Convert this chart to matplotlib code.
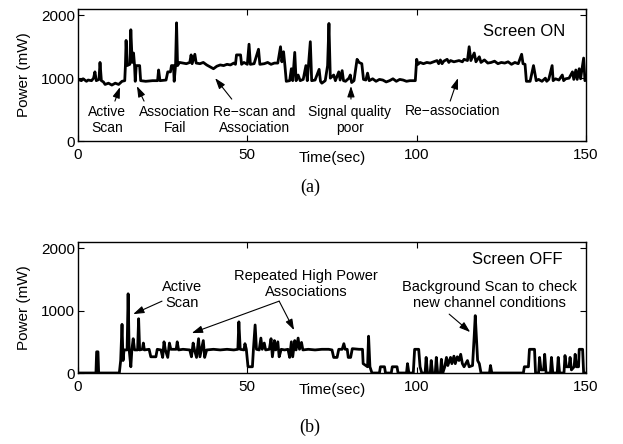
import matplotlib
matplotlib.use("Agg")
import matplotlib.pyplot as plt

plt.rcParams['font.family'] = ['Liberation Sans', 'DejaVu Sans']

# Screen ON trace: (time in s, power in mW)
on_trace = [
    (0, 980), (1, 960), (1.5, 990), (2.5, 950), (3, 970), (4, 960), (4.6, 1000), (5, 1100),
    (5.4, 960), (6.2, 980), (6.5, 1250), (6.9, 960), (7.5, 940), (8, 900), (9, 920), (10, 890),
    (11, 920), (12, 900), (13, 950), (13.8, 960), (14.0, 1200), (14.2, 1600), (14.5, 1200),
    (15.3, 1220), (15.6, 1770), (16, 1250), (16.4, 1400), (16.7, 1200), (16.9, 950), (17.2, 1200),
    (18.2, 1200), (18.5, 960), (20, 950), (22, 960), (23.5, 960), (23.8, 1130), (24.2, 960),
    (26, 970), (26.5, 1100), (27.3, 1100), (27.6, 1200), (28.2, 1200), (28.4, 950), (28.8, 1200),
    (29.1, 1880), (29.4, 1200), (30, 1250), (31, 1240), (32, 1230), (33, 1250), (33.4, 1370),
    (33.7, 1230), (34.5, 1380), (34.9, 1240), (36, 1230), (37, 1250), (38, 1210), (39, 1180),
    (40, 1150), (41, 1190), (42, 1210), (43, 1200), (44, 1220), (45, 1210), (46, 1240),
    (46.5, 1220), (46.8, 1370), (48, 1370), (48.3, 1220), (49, 1250), (50, 1220), (50.5, 1540),
    (50.9, 1220), (52, 1230), (53.3, 1460), (53.7, 1220), (55, 1230), (56, 1250), (57, 1220),
    (58, 1240), (59, 1240), (59.8, 1500), (60.2, 1260), (60.7, 1420), (61.1, 1200), (61.5, 950),
    (62.5, 960), (63, 1150), (63.4, 960), (64, 1410), (64.4, 960), (65, 1050), (65.6, 960),
    (66.5, 980), (67.3, 1200), (67.7, 960), (68.6, 1580), (69, 960), (70, 970), (71.2, 1140),
    (71.6, 950), (72, 920), (73, 960), (73.7, 1200), (74.1, 1870), (74.5, 1000), (75.5, 1050),
    (76, 960), (77, 1100), (77.4, 970), (78, 1120), (78.4, 960), (79, 950), (80, 1000),
    (80.4, 1050), (80.8, 930), (81.5, 960), (82.4, 1300), (83, 1250), (83.8, 1230), (84.3, 980),
    (85, 970), (85.5, 1080), (86, 960), (87, 990), (88, 950), (89, 980), (90, 970), (91, 940),
    (92, 960), (93, 990), (94, 950), (95, 980), (96, 970), (97, 950), (98, 960), (99.6, 960),
    (100, 1300), (100.4, 1220), (101, 1250), (102, 1230), (103, 1250), (104, 1240), (105, 1260),
    (106, 1280), (106.5, 1230), (107, 1290), (107.5, 1230), (108, 1270), (109, 1300), (109.5, 1250),
    (110, 1280), (111, 1260), (112.5, 1280), (113.5, 1260), (114, 1300), (115, 1280), (115.5, 1500),
    (116, 1280), (117, 1400), (117.5, 1260), (118.5, 1340), (119, 1250), (120, 1290), (121, 1240),
    (122, 1250), (123, 1270), (124, 1230), (125, 1250), (126, 1240), (127, 1260), (128, 1220),
    (129, 1250), (130, 1230), (131, 1380), (131.4, 1230), (132, 1220), (132.4, 950), (133.5, 950),
    (134.5, 1200), (135.3, 960), (136, 980), (137, 950), (138, 1000), (138.4, 950), (139, 980),
    (140, 1200), (140.3, 960), (141, 990), (142, 970), (143, 1050), (143.4, 960), (144, 990),
    (145, 1000), (146, 1100), (146.4, 980), (147, 1130), (147.4, 980), (148, 1150), (148.4, 990),
    (149.3, 1320), (149.7, 960), (150, 1000),
]

# Screen OFF trace
off_trace = [
    (0, 0), (5.3, 0), (5.5, 340), (5.9, 340), (6.1, 0), (12.2, 0), (12.6, 200), (13.0, 780),
    (13.3, 200), (13.6, 370), (14.5, 370), (14.8, 1270), (15.1, 380), (15.6, 100), (15.9, 370),
    (16.3, 550), (16.7, 370), (17.6, 370), (17.9, 870), (18.2, 370), (19, 380), (19.3, 480),
    (19.6, 370), (21, 380), (21.5, 260), (23, 260), (23.4, 380), (24.5, 370), (25, 250),
    (25.4, 500), (25.8, 370), (26.5, 250), (27, 480), (27.4, 380), (29, 380), (29.3, 500),
    (29.7, 370), (31, 380), (33, 370), (33.5, 260), (34, 480), (34.4, 370), (35, 250),
    (35.6, 550), (36, 260), (37, 520), (37.4, 250), (38, 370), (40, 380), (42, 370), (44, 380),
    (46, 370), (47.2, 380), (47.5, 820), (47.9, 380), (49, 370), (49.3, 470), (49.7, 380),
    (50.2, 100), (51.5, 100), (51.8, 380), (52.3, 770), (52.7, 380), (53.5, 370), (54, 560),
    (54.4, 380), (55, 480), (55.4, 370), (56.5, 380), (57, 550), (57.4, 260), (58, 520),
    (58.4, 370), (59, 500), (59.4, 260), (60, 380), (61, 370), (62, 380), (62.5, 250), (63, 500),
    (63.4, 260), (64, 520), (64.4, 370), (65, 560), (65.4, 380), (66, 490), (66.4, 370),
    (68, 380), (70, 370), (72, 380), (74, 380), (75, 370), (75.5, 250), (76.5, 250), (77, 380),
    (78, 380), (78.5, 470), (78.9, 380), (79.5, 380), (79.8, 250), (80.5, 250), (81, 390),
    (83, 380), (84, 380), (84.2, 150), (85.5, 100), (85.8, 590), (86.2, 100), (86.8, 0),
    (89, 0), (89.3, 100), (90.5, 100), (90.8, 0), (92.5, 0), (92.8, 100), (94.2, 100), (94.5, 0),
    (97, 0), (97.3, 150), (97.7, 0), (99, 0), (99.4, 380), (100.6, 380), (101, 100), (101.5, 0),
    (102.5, 0), (102.8, 250), (103.2, 0), (104, 0), (104.3, 200), (104.7, 0), (105.5, 0),
    (105.8, 250), (106.2, 0), (107, 0), (107.3, 220), (107.7, 0), (108.3, 100), (108.8, 250),
    (109.2, 120), (110, 250), (110.4, 150), (111, 270), (111.4, 150), (112, 260), (112.5, 200),
    (113, 300), (113.5, 150), (114, 100), (115, 200), (115.5, 100), (116.5, 120), (117, 600),
    (117.3, 920), (117.7, 500), (118, 200), (118.5, 150), (119, 0), (121.5, 0), (121.8, 120),
    (122.2, 0), (131.5, 0), (131.8, 100), (133, 100), (133.3, 380), (134.8, 380), (135.1, 0),
    (136, 0), (136.3, 250), (136.7, 50), (137.5, 50), (137.8, 300), (138.2, 0), (139.5, 0),
    (139.8, 250), (140.2, 0), (141.5, 0), (141.8, 250), (142.2, 0), (143.5, 0), (143.8, 280),
    (144.2, 100), (145, 100), (145.3, 250), (145.7, 50), (146.5, 100), (146.8, 300), (147.2, 100),
    (147.8, 100), (148, 380), (149, 380), (149.3, 0), (150, 0),
]

on_t = [t for t, p in on_trace]
on_p = [p for t, p in on_trace]
off_t = [t for t, p in off_trace]
off_p = [p for t, p in off_trace]

# (text, x, y)
on_labels = [("Active\nScan", 8.6, 340), ("Association\nFail", 28.6, 340),
             ("Re\u2212scan and\nAssociation", 52, 340), ("Signal quality\npoor", 80.3, 340),
             ("Re\u2212association", 110.7, 476)]
# (tail x, tail y, tip x, tip y)
on_arrows = [(10.9, 635, 12.4, 857), (19.5, 635, 17.4, 873), (45.4, 667, 40.5, 1000),
             (80.6, 667, 80.6, 873), (109.9, 635, 112.2, 1000)]

off_labels = [("Active\nScan", 30.7, 1256), ("Repeated High Power\nAssociations", 67.4, 1432),
              ("Background Scan to check\nnew channel conditions", 121.5, 1256)]
off_arrows = [(24.8, 1152, 16.3, 944), (59.4, 1152, 33.6, 640), (59.4, 1152, 63.8, 688),
              (109.6, 944, 115.8, 656)]

fig = plt.figure(figsize=(6.23, 4.44), dpi=100)
ax1 = fig.add_axes([0.1252, 0.6824, 0.8154, 0.2973])
ax2 = fig.add_axes([0.1252, 0.1599, 0.8154, 0.2950])

arrow_style = dict(arrowstyle='-|>,head_length=0.65,head_width=0.22', color='k', lw=0.8,
                   shrinkA=0, shrinkB=0)


def setup(ax):
    ax.set_xlim(0, 150)
    ax.set_ylim(0, 2100)
    ax.set_xticks([0, 50, 100, 150])
    ax.set_yticks([0, 1000, 2000])
    ax.tick_params(direction='in', top=True, right=True, length=4, labelsize=11)
    ax.tick_params(axis='x', pad=5)
    ax.tick_params(axis='y', pad=2)
    ax.set_ylabel("Power (mW)", fontsize=11, labelpad=7)
    ax.set_xlabel("Time(sec)", fontsize=11)
    ax.xaxis.set_label_coords(0.5, -0.075)
    for s in ax.spines.values():
        s.set_linewidth(1.0)


ax1.plot(on_t, on_p, color='k', lw=2.0)
setup(ax1)
for txt, x, y in on_labels:
    ax1.text(x, y, txt, ha='center', va='center', fontsize=10, multialignment='center')
for x0, y0, x1, y1 in on_arrows:
    ax1.annotate('', xy=(x1, y1), xytext=(x0, y0), arrowprops=arrow_style)
ax1.text(131.7, 1745, "Screen ON", ha='center', va='center', fontsize=12)

ax2.plot(off_t, off_p, color='k', lw=2.0)
setup(ax2)
for txt, x, y in off_labels:
    ax2.text(x, y, txt, ha='center', va='center', fontsize=10.5, multialignment='center')
for x0, y0, x1, y1 in off_arrows:
    ax2.annotate('', xy=(x1, y1), xytext=(x0, y0), arrowprops=arrow_style)
ax2.text(129.7, 1824, "Screen OFF", ha='center', va='center', fontsize=12)

fig.text(0.4976, 1 - 187 / 444, "(a)", ha='center', va='center', fontsize=13, family='Liberation Serif')
fig.text(0.4976, 1 - 427 / 444, "(b)", ha='center', va='center', fontsize=13, family='Liberation Serif')

fig.savefig("out.png", dpi=100)
